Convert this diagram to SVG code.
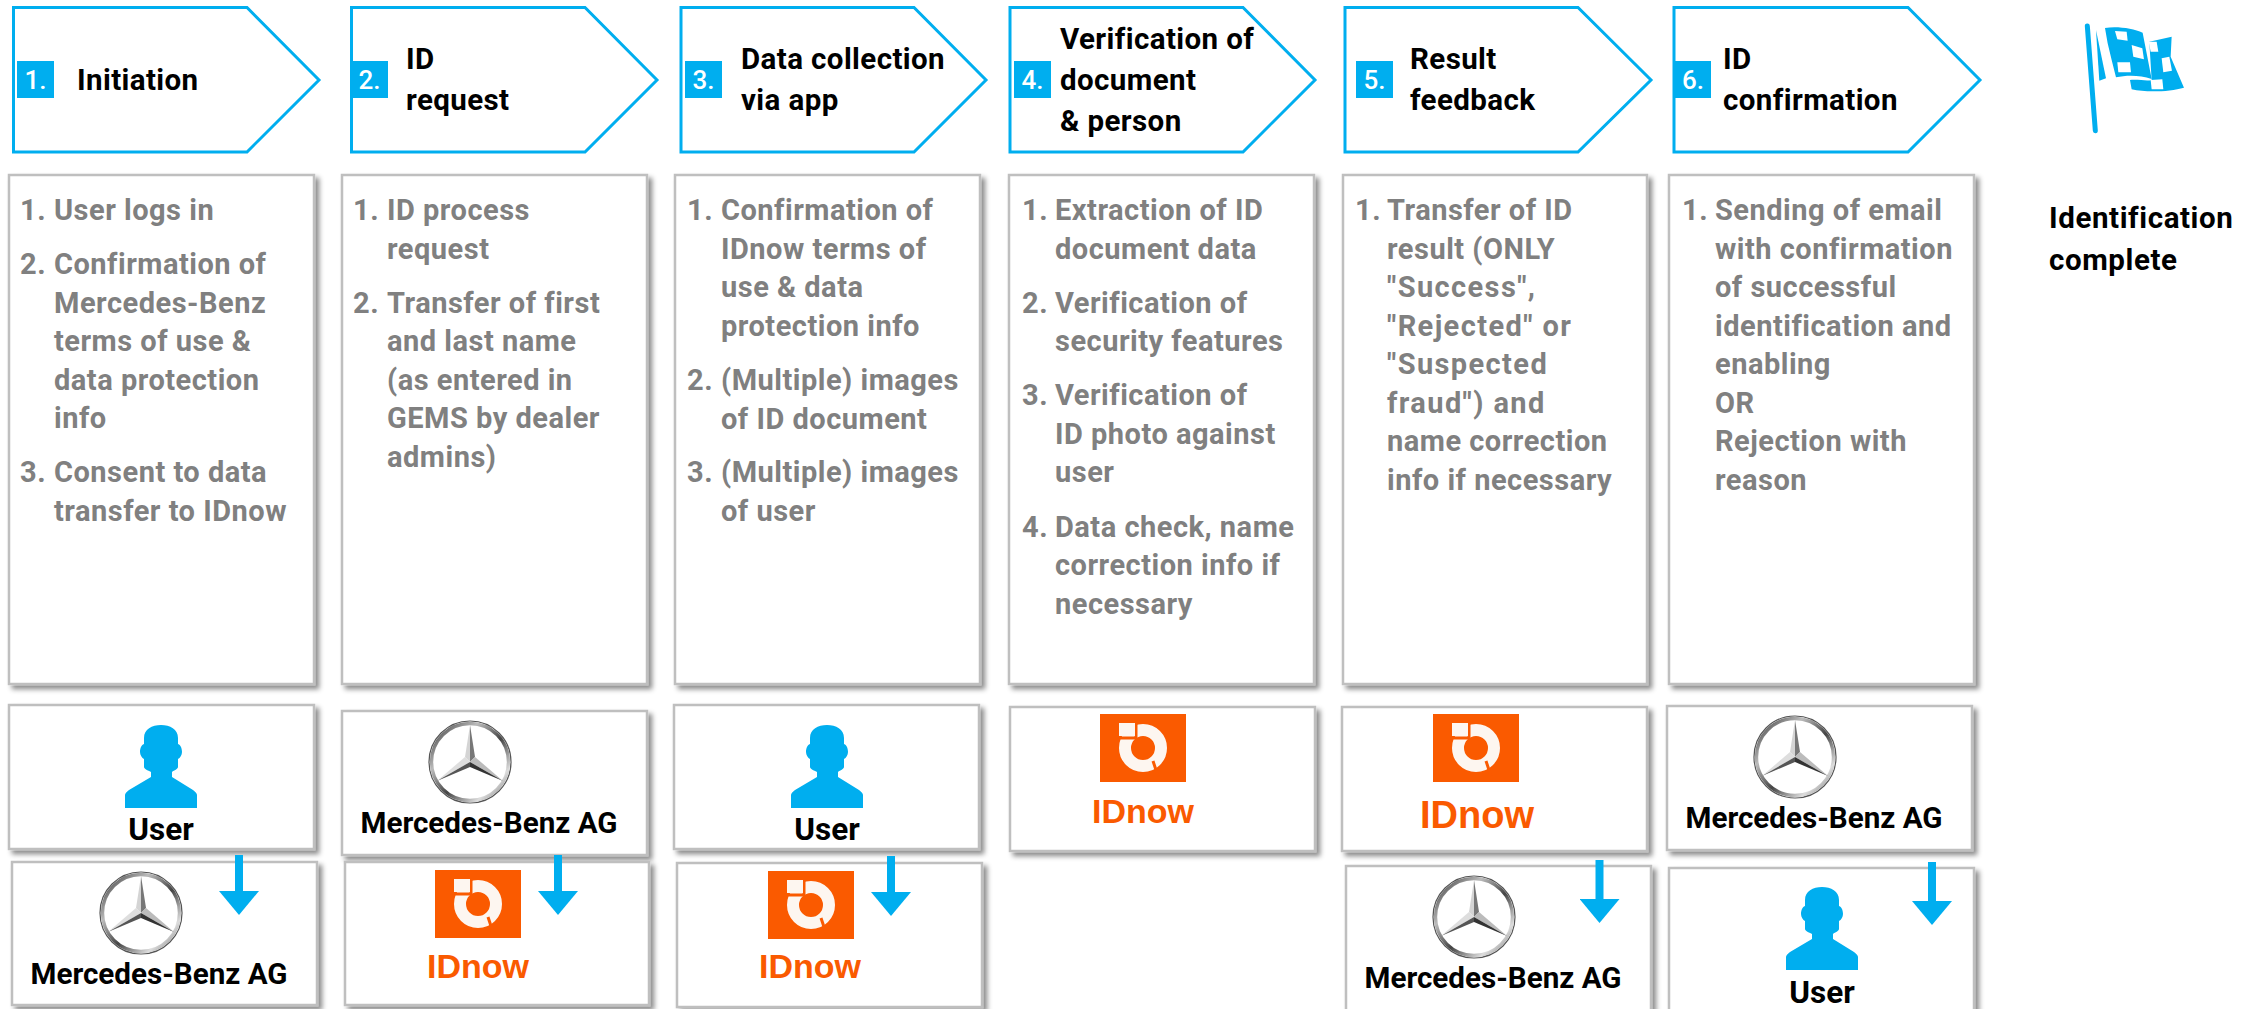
<svg xmlns="http://www.w3.org/2000/svg" xmlns:xlink="http://www.w3.org/1999/xlink" width="2260" height="1009" viewBox="0 0 2260 1009">
<style>
text{font-family:Roboto,"Liberation Sans",sans-serif}
.pent{fill:#fff;stroke:#00aeef;stroke-width:3;stroke-linejoin:miter}
.sq{fill:#00aeef}
.n{font-size:26px;font-weight:500;fill:#fff;text-anchor:middle}
.h{font-size:29.5px;font-weight:700;fill:#000;letter-spacing:.4px}
.b{font-size:29px;font-weight:700;fill:#808080;letter-spacing:.5px;transform:translateY(1px)}
.card{fill:#fff;stroke:#bfbfbf;stroke-width:2.5;filter:url(#sh)}
.l{font-size:29.6px;font-weight:700;fill:#000;text-anchor:middle}
.u{font-size:31.5px}
.id{font-family:"Liberation Sans",Arial,sans-serif;font-size:34px;font-weight:700;fill:#fa5a00;text-anchor:middle}
.arrow{stroke:#00aeef;stroke-width:8;fill:none;marker-end:url(#ah)}
</style>
<defs>
<filter id="sh" x="-5%" y="-5%" width="112%" height="112%"><feDropShadow dx="4" dy="4" stdDeviation="2.5" flood-color="#000" flood-opacity=".45"/></filter>
<marker id="ah" markerUnits="userSpaceOnUse" markerWidth="24" markerHeight="40" viewBox="0 0 24 40" refX="0" refY="20" orient="auto"><path d="M0 0L24 20L0 40Z" fill="#00aeef"/></marker>
<linearGradient id="rg" x1="0" y1="0" x2="1" y2="1"><stop offset="0" stop-color="#333"/><stop offset=".3" stop-color="#bbb"/><stop offset=".55" stop-color="#444"/><stop offset=".8" stop-color="#ddd"/><stop offset="1" stop-color="#666"/></linearGradient>
<symbol id="user" viewBox="0 0 72 83" width="72" height="83" overflow="visible"><path fill="#00aeef" d="M36 0C45 0 53 4 53 13L53 19C56 20 57 24 57 27C57 30 55 33 53 34L53 42C53 44 48 46 47 47L47 52L68 65Q72 68 72 70L72 83L0 83L0 70Q0 68 4 65L26 52L26 47C24 46 19 44 19 42L19 34C17 33 15 30 15 27C15 24 16 20 19 19L19 13C19 4 27 0 36 0Z"/></symbol>
<symbol id="mb" viewBox="-43 -43 86 86" width="86" height="86" overflow="visible">
<circle r="41" fill="none" stroke="#555" stroke-width="1.2"/>
<circle r="38.5" fill="none" stroke="url(#rg)" stroke-width="3.4"/>
<path d="M0 -37L-5 -5L0 0Z" fill="#d4d4d4"/><path d="M0 -37L5 -5L0 0Z" fill="#777"/>
<path d="M-33 19L-5 -5L0 0Z" fill="#dedede"/><path d="M-33 19L0 5L0 0Z" fill="#555"/>
<path d="M33 19L5 -5L0 0Z" fill="#bbb"/><path d="M33 19L0 5L0 0Z" fill="#333"/>
</symbol>
<symbol id="idn" viewBox="0 0 86 68" width="86" height="68" overflow="visible">
<rect width="86" height="68" fill="#fa5a00"/>
<circle cx="43" cy="34" r="18" fill="none" stroke="#fdf6f0" stroke-width="12"/>
<rect x="19" y="9" width="16" height="13" fill="#fdf6f0"/>
<path d="M36 6V24M14 24H37M53 47L58 62" stroke="#fa5a00" stroke-width="3" fill="none"/>
<path d="M19 9H35V22H19Z" fill="#fdf6f0"/>
</symbol>
</defs>

<g id="step1">
<path class="pent" d="M13.5 7.5H247L319 80L247 152H13.5Z"/><rect class="sq" x="17" y="61" width="37" height="37"/><text class="n" x="35.5" y="89">1.</text>
<text class="h" x="77" y="90">Initiation</text>
</g>
<g id="step2">
<path class="pent" d="M351.5 7.5H585L657 80L585 152H351.5Z"/><rect class="sq" x="351" y="61" width="37" height="37"/><text class="n" x="369.5" y="89">2.</text>
<text class="h" x="406" y="69">ID</text><text class="h" x="406" y="110">request</text>
</g>
<g id="step3">
<path class="pent" d="M681 7.5H914L986 80L914 152H681Z"/><rect class="sq" x="685" y="61" width="37" height="37"/><text class="n" x="703.5" y="89">3.</text>
<text class="h" x="741" y="69">Data collection</text><text class="h" x="741" y="110">via app</text>
</g>
<g id="step4">
<path class="pent" d="M1010 7.5H1243L1315 80L1243 152H1010Z"/><rect class="sq" x="1014" y="61" width="37" height="37"/><text class="n" x="1032.5" y="89">4.</text>
<text class="h" x="1060" y="49">Verification of</text><text class="h" x="1060" y="90">document</text><text class="h" x="1060" y="131">&amp; person</text>
</g>
<g id="step5">
<path class="pent" d="M1345 7.5H1578L1651 80L1578 152H1345Z"/><rect class="sq" x="1356" y="61" width="37" height="37"/><text class="n" x="1374.5" y="89">5.</text>
<text class="h" x="1410" y="69">Result</text><text class="h" x="1410" y="110">feedback</text>
</g>
<g id="step6">
<path class="pent" d="M1674 7.5H1908L1980 80L1908 152H1674Z"/><rect class="sq" x="1675" y="61" width="36" height="37"/><text class="n" x="1693" y="89">6.</text>
<text class="h" x="1723" y="69">ID</text><text class="h" x="1723" y="110">confirmation</text>
</g>

<g id="list1">
<rect class="card" x="9" y="175" width="305" height="509"/>
<text class="b" x="20" y="219">1.</text><text class="b" x="54" y="219">User logs in</text>
<text class="b" x="20" y="273">2.</text><text class="b" x="54" y="273">Confirmation of</text><text class="b" x="54" y="312">Mercedes-Benz</text><text class="b" x="54" y="350">terms of use &amp;</text><text class="b" x="54" y="389">data protection</text><text class="b" x="54" y="427">info</text>
<text class="b" x="20" y="481">3.</text><text class="b" x="54" y="481">Consent to data</text><text class="b" x="54" y="520">transfer to IDnow</text>
</g>
<g id="list2">
<rect class="card" x="342" y="175" width="305" height="509"/>
<text class="b" x="353" y="219">1.</text><text class="b" x="387" y="219">ID process</text><text class="b" x="387" y="258">request</text>
<text class="b" x="353" y="312">2.</text><text class="b" x="387" y="312">Transfer of first</text><text class="b" x="387" y="350">and last name</text><text class="b" x="387" y="389">(as entered in</text><text class="b" x="387" y="427">GEMS by dealer</text><text class="b" x="387" y="466">admins)</text>
</g>
<g id="list3">
<rect class="card" x="675" y="175" width="305" height="509"/>
<text class="b" x="687" y="219">1.</text><text class="b" x="721" y="219">Confirmation of</text><text class="b" x="721" y="258">IDnow terms of</text><text class="b" x="721" y="296">use &amp; data</text><text class="b" x="721" y="335">protection info</text>
<text class="b" x="687" y="389">2.</text><text class="b" x="721" y="389">(Multiple) images</text><text class="b" x="721" y="428">of ID document</text>
<text class="b" x="687" y="481">3.</text><text class="b" x="721" y="481">(Multiple) images</text><text class="b" x="721" y="520">of user</text>
</g>
<g id="list4">
<rect class="card" x="1009" y="175" width="305" height="509"/>
<text class="b" x="1022" y="219">1.</text><text class="b" x="1055" y="219">Extraction of ID</text><text class="b" x="1055" y="258">document data</text>
<text class="b" x="1022" y="312">2.</text><text class="b" x="1055" y="312">Verification of</text><text class="b" x="1055" y="350">security features</text>
<text class="b" x="1022" y="404">3.</text><text class="b" x="1055" y="404">Verification of</text><text class="b" x="1055" y="443">ID photo against</text><text class="b" x="1055" y="481">user</text>
<text class="b" x="1022" y="536">4.</text><text class="b" x="1055" y="536">Data check, name</text><text class="b" x="1055" y="574">correction info if</text><text class="b" x="1055" y="613">necessary</text>
</g>
<g id="list5">
<rect class="card" x="1343" y="175" width="304" height="509"/>
<text class="b" x="1355" y="219">1.</text><text class="b" x="1387" y="219">Transfer of ID</text><text class="b" x="1387" y="258">result (ONLY</text><text class="b" x="1387" y="296" style="letter-spacing:1.4px">"Success",</text><text class="b" x="1387" y="335" style="letter-spacing:1.4px">"Rejected" or</text><text class="b" x="1387" y="373" style="letter-spacing:1.4px">"Suspected</text><text class="b" x="1387" y="412" style="letter-spacing:1.4px">fraud") and</text><text class="b" x="1387" y="450">name correction</text><text class="b" x="1387" y="489">info if necessary</text>
</g>
<g id="list6">
<rect class="card" x="1669" y="175" width="305" height="509"/>
<text class="b" x="1682" y="219">1.</text><text class="b" x="1715" y="219">Sending of email</text><text class="b" x="1715" y="258">with confirmation</text><text class="b" x="1715" y="296">of successful</text><text class="b" x="1715" y="335">identification and</text><text class="b" x="1715" y="373">enabling</text><text class="b" x="1715" y="412">OR</text><text class="b" x="1715" y="450">Rejection with</text><text class="b" x="1715" y="489">reason</text>
</g>

<g id="actor1a"><rect class="card" x="9" y="705" width="305" height="144"/><use xlink:href="#user" href="#user" x="125" y="725"/><text class="l u" x="161" y="840">User</text></g>
<g id="actor1b"><rect class="card" x="12" y="862" width="305" height="143"/><use xlink:href="#mb" href="#mb" x="98" y="870"/><text class="l" x="159" y="984">Mercedes-Benz AG</text></g>
<g id="actor2a"><rect class="card" x="342" y="711" width="305" height="144"/><use xlink:href="#mb" href="#mb" x="427" y="719"/><text class="l" x="489" y="833">Mercedes-Benz AG</text></g>
<g id="actor2b"><rect class="card" x="345" y="862" width="304" height="143"/><use xlink:href="#idn" href="#idn" x="435" y="870"/><text class="id" x="478" y="978">IDnow</text></g>
<g id="actor3a"><rect class="card" x="674" y="705" width="305" height="144"/><use xlink:href="#user" href="#user" x="791" y="725"/><text class="l u" x="827" y="840">User</text></g>
<g id="actor3b"><rect class="card" x="677" y="863" width="305" height="144"/><use xlink:href="#idn" href="#idn" x="768" y="871"/><text class="id" x="810" y="978">IDnow</text></g>
<g id="actor4"><rect class="card" x="1010" y="707" width="305" height="144"/><use xlink:href="#idn" href="#idn" x="1100" y="714"/><text class="id" x="1143" y="823">IDnow</text></g>
<g id="actor5a"><rect class="card" x="1342" y="707" width="305" height="144"/><use xlink:href="#idn" href="#idn" x="1433" y="714"/><text class="id" x="1477" y="828" style="font-size:38px">IDnow</text></g>
<g id="actor5b"><rect class="card" x="1346" y="866" width="305" height="146"/><use xlink:href="#mb" href="#mb" x="1431" y="874"/><text class="l" x="1493" y="988">Mercedes-Benz AG</text></g>
<g id="actor6a"><rect class="card" x="1667" y="706" width="305" height="144"/><use xlink:href="#mb" href="#mb" x="1752" y="714"/><text class="l" x="1814" y="828">Mercedes-Benz AG</text></g>
<g id="actor6b"><rect class="card" x="1669" y="868" width="305" height="146"/><use xlink:href="#user" href="#user" x="1786" y="887"/><text class="l u" x="1822" y="1003">User</text></g>

<g id="finish">
<g transform="translate(1960 0) scale(.3333)" fill="#00aeef">
<path d="M382 78L406 392" stroke="#00aeef" stroke-width="15" stroke-linecap="round" fill="none"/>
<path d="M408 90L438 235L418 242Z"/>
<path d="M435 84C470 78 520 85 548 98L575 237C540 225 500 225 468 232L455 180L443 130Z"/>
<path d="M568 125L635 110L632 170L672 263C630 275 560 278 515 268L510 240C540 238 560 245 575 240Z"/>
<g fill="#fff"><path d="M465 93L500 95L503 122L472 118Z"/><path d="M515 135L547 145L552 178L520 170Z"/><path d="M472 187L510 187L513 217L475 217Z"/><path d="M566 125L590 125L595 155L572 155Z"/><path d="M605 175L628 170L636 212L610 217Z"/><path d="M572 240L607 238L610 268L575 268Z"/></g>
</g>
<text class="h" x="2049" y="228" style="letter-spacing:.6px">Identification</text>
<text class="h" x="2049" y="270" style="letter-spacing:.6px">complete</text>
</g>

<g id="connectors">
<path class="arrow" d="M239 855V891"/>
<path class="arrow" d="M558 855V891"/>
<path class="arrow" d="M891 856V892"/>
<path class="arrow" d="M1599.5 860V899"/>
<path class="arrow" d="M1932 862V901"/>
</g>
</svg>
